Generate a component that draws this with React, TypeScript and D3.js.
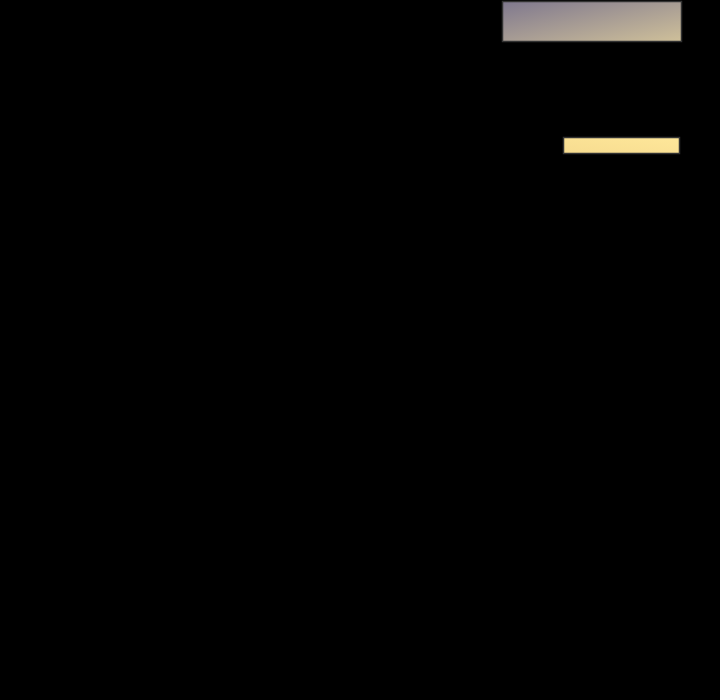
import * as d3 from "d3";
import { useEffect, useRef } from "react";

// single visible series on a black page
const categories = ["A"];
const values = [100];

const W = 720;
const H = 700;

export default function App() {
  const svgRef = useRef<SVGSVGElement>(null);

  useEffect(() => {
    document.body.style.margin = "0";
    document.body.style.background = "#000";
    if (!svgRef.current) return;
    const svg = d3.select(svgRef.current);
    svg.selectAll("*").remove();

    svg.append("rect").attr("width", W).attr("height", H).attr("fill", "#000");

    const defs = svg.append("defs");
    const g1 = defs.append("linearGradient").attr("id", "boxGrad")
      .attr("x1", 0).attr("y1", 0).attr("x2", 1).attr("y2", 1);
    g1.append("stop").attr("offset", "0%").attr("stop-color", "#7f788e");
    g1.append("stop").attr("offset", "100%").attr("stop-color", "#cfc09a");

    const g2 = defs.append("linearGradient").attr("id", "barGrad")
      .attr("x1", 0).attr("y1", 1).attr("x2", 1).attr("y2", 0);
    g2.append("stop").attr("offset", "0%").attr("stop-color", "#f7dc90");
    g2.append("stop").attr("offset", "100%").attr("stop-color", "#fee79a");

    // header box
    svg.append("rect")
      .attr("x", 502.5).attr("y", 1.5)
      .attr("width", 179).attr("height", 40)
      .attr("fill", "url(#boxGrad)")
      .attr("stroke", "#333").attr("stroke-width", 1.5);

    const x = d3.scaleLinear().domain([0, 100]).range([563.5, 679.5]);
    const y = d3.scaleBand().domain(categories).range([137.5, 153.5]).padding(0);

    svg.selectAll("rect.bar")
      .data(values)
      .enter()
      .append("rect")
      .attr("class", "bar")
      .attr("x", x(0))
      .attr("y", (d, i) => y(categories[i]))
      .attr("width", d => x(d) - x(0))
      .attr("height", y.bandwidth())
      .attr("fill", "url(#barGrad)")
      .attr("stroke", "#333")
      .attr("stroke-width", 1.5);
  }, []);

  return <svg ref={svgRef} width={W} height={H} style={{ display: "block" }} />;
}
